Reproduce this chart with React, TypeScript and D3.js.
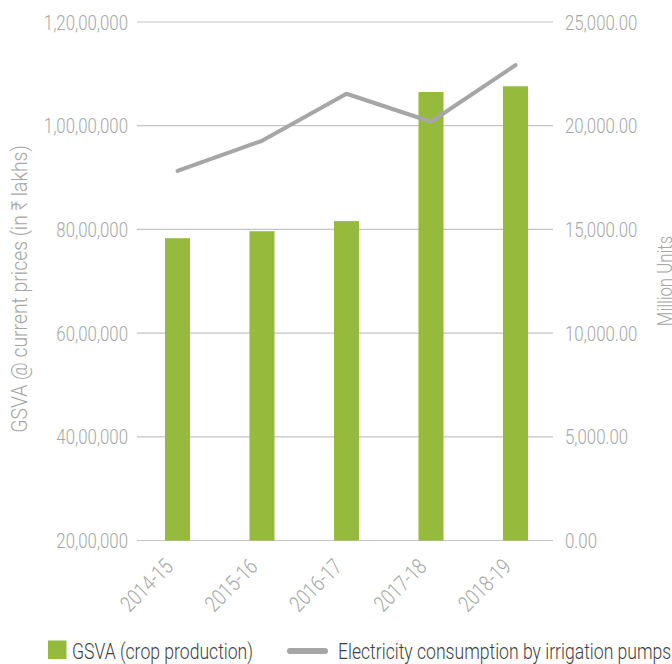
import React from "react";
import * as d3 from "d3";

const categories = ["2014-15", "2015-16", "2016-17", "2017-18", "2018-19"];
const gsvaValues = [7830000, 7965000, 8160000, 10650000, 10760000];
const electricityValues = [17820, 19270, 21540, 20190, 22920];
const leftTicks = [2000000, 4000000, 6000000, 8000000, 10000000, 12000000];
const rightTicks = [0, 5000, 10000, 15000, 20000, 25000];
const legendLabels = ["GSVA (crop production)", "Electricity consumption by irrigation pumps"];
const leftTitle = "GSVA @ current prices (in ₹ lakhs)";
const rightTitle = "Million Units";

const W = 672;
const H = 664;
const top = 22;
const bottom = 540.5;
const gridX0 = 137;
const gridX1 = 553;
const FONT = "Roboto, 'Noto Sans', sans-serif";
const AXIS_COLOR = "#a6a6a6";
const GRID_COLOR = "#c4c4c4";
const BAR_COLOR = "#95ba3c";
const LINE_COLOR = "#a6a6a6";
const TEXT_DARK = "#3f3f3f";
const SX = 0.8;

function indianFormat(n: number): string {
  const s = Math.round(n).toString();
  if (s.length <= 3) return s;
  const last3 = s.slice(-3);
  let rest = s.slice(0, -3);
  const parts: string[] = [];
  while (rest.length > 2) {
    parts.unshift(rest.slice(-2));
    rest = rest.slice(0, -2);
  }
  if (rest.length) parts.unshift(rest);
  return parts.join(",") + "," + last3;
}

const fmtRight = d3.format(",.2f");

export default function App() {
  const x = d3
    .scaleBand<string>()
    .domain(categories)
    .range([135.25, 557.75])
    .paddingInner(0.704)
    .paddingOuter(0.352);
  const yL = d3.scaleLinear().domain([2000000, 12000000]).range([bottom, top]);
  const yR = d3.scaleLinear().domain([0, 25000]).range([bottom, top]);
  const line = d3
    .line<number>()
    .x((_, i) => (x(categories[i]) as number) + x.bandwidth() / 2)
    .y((d) => yR(d));

  return (
    <svg
      width={W}
      height={H}
      style={{ position: "absolute", left: 0, top: 0, background: "#fff" }}
      fontFamily={FONT}
      fontWeight={300}
    >
      {/* gridlines */}
      {leftTicks.map((t) => (
        <line
          key={"g" + t}
          x1={gridX0}
          x2={gridX1}
          y1={yL(t)}
          y2={yL(t)}
          stroke={GRID_COLOR}
          strokeWidth={1.2}
        />
      ))}
      {/* left tick labels */}
      {leftTicks.map((t) => (
        <text
          key={"l" + t}
          transform={`translate(128,${yL(t)}) scale(${SX},1)`}
          textAnchor="end"
          dy="0.36em"
          fontSize={21}
          fill={AXIS_COLOR}
        >
          {indianFormat(t)}
        </text>
      ))}
      {/* right tick labels */}
      {rightTicks.map((t) => (
        <text
          key={"r" + t}
          transform={`translate(565,${yR(t)}) scale(${SX},1)`}
          textAnchor="start"
          dy="0.36em"
          fontSize={21}
          fill={AXIS_COLOR}
        >
          {fmtRight(t)}
        </text>
      ))}
      {/* bars */}
      {categories.map((c, i) => (
        <rect
          key={"b" + c}
          x={x(c)}
          y={yL(gsvaValues[i])}
          width={x.bandwidth()}
          height={bottom - yL(gsvaValues[i])}
          fill={BAR_COLOR}
        />
      ))}
      {/* line */}
      <path
        d={line(electricityValues) || ""}
        fill="none"
        stroke={LINE_COLOR}
        strokeWidth={4}
        strokeLinejoin="round"
        strokeLinecap="round"
      />
      {/* x labels */}
      {categories.map((c) => (
        <text
          key={"x" + c}
          transform={`translate(${(x(c) as number) + x.bandwidth() / 2 - 3},568) rotate(-45) scale(${SX},1)`}
          textAnchor="end"
          fontSize={22}
          fill={AXIS_COLOR}
        >
          {c}
        </text>
      ))}
      {/* axis titles */}
      <text
        transform={`translate(27,289) rotate(-90) scale(0.88,1)`}
        textAnchor="middle"
        fontSize={22}
        fill={AXIS_COLOR}
      >
        {leftTitle}
      </text>
      <text
        transform={`translate(672,281) rotate(-90) scale(${SX},1)`}
        textAnchor="middle"
        fontSize={21}
        fill={AXIS_COLOR}
      >
        {rightTitle}
      </text>
      {/* legend */}
      <rect x={48} y={640.5} width={18.5} height={18.5} fill={BAR_COLOR} />
      <text
        transform={`translate(72,659) scale(${SX},1)`}
        fontSize={22}
        fill={TEXT_DARK}
      >
        {legendLabels[0]}
      </text>
      <line
        x1={290}
        x2={325}
        y1={651}
        y2={651}
        stroke={LINE_COLOR}
        strokeWidth={6}
        strokeLinecap="round"
      />
      <text
        transform={`translate(338,659) scale(${SX},1)`}
        fontSize={22}
        fill={TEXT_DARK}
      >
        {legendLabels[1]}
      </text>
    </svg>
  );
}
